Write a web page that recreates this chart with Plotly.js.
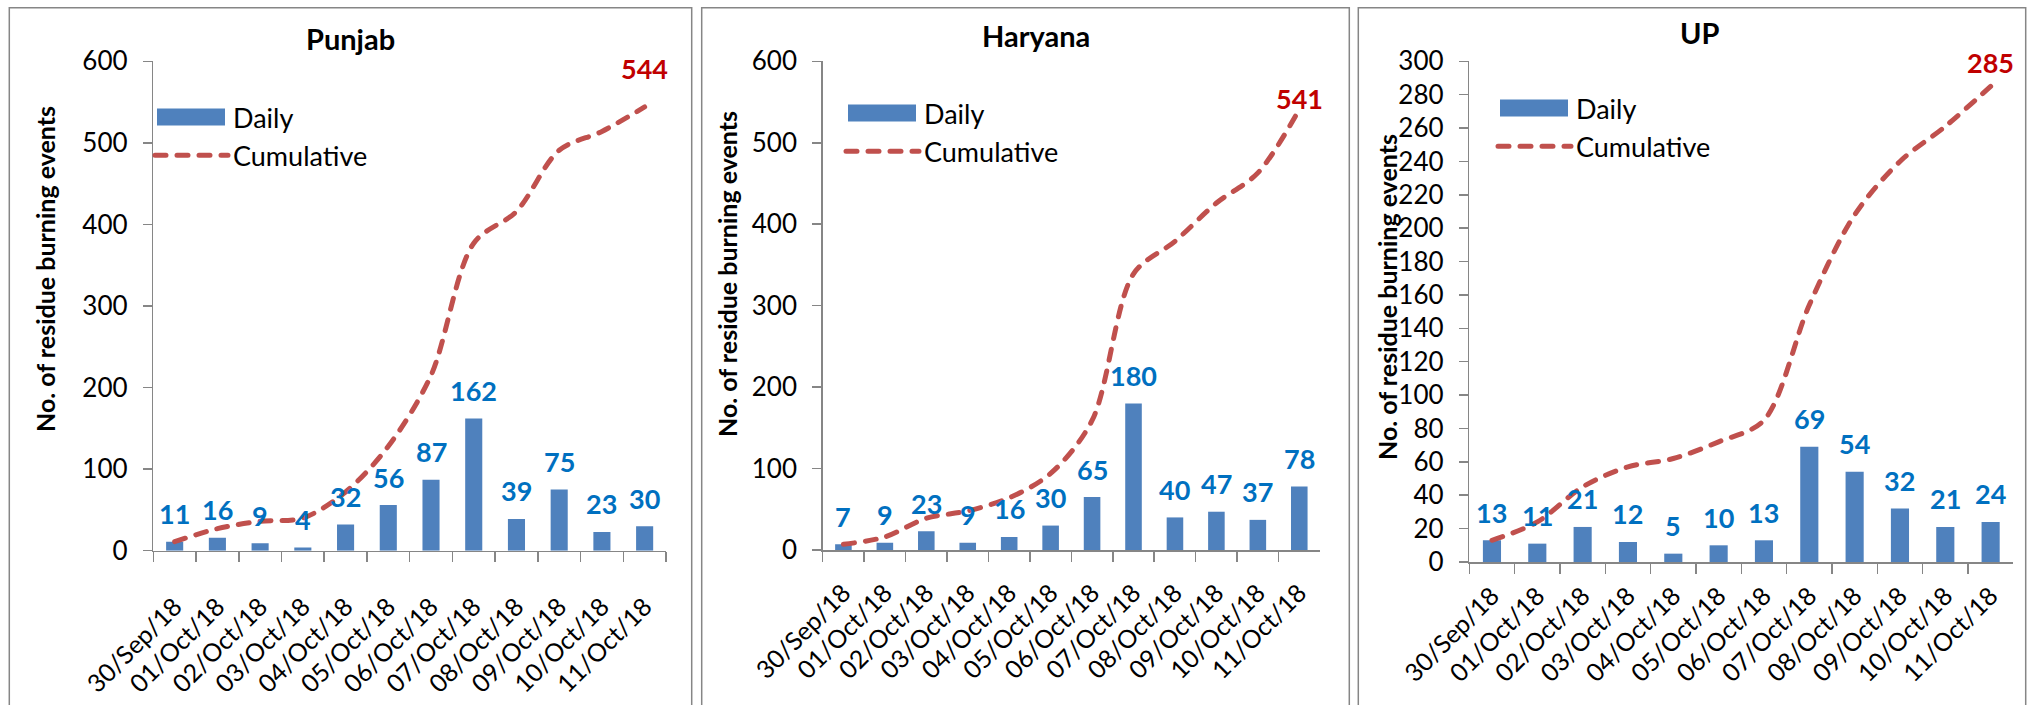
<!DOCTYPE html>
<html><head><meta charset="utf-8">
<script src="https://cdn.plot.ly/plotly-3.0.1.min.js"></script>
<style>
html,body{margin:0;padding:0;background:#fff;}
#chart{width:2028px;height:705px;}
.scatterlayer .js-line{stroke-linecap:round;}
.infolayer .js-line{stroke-linecap:round;}
.infolayer .legendpoints path{d:path("M7,-8.5H75V8.5H7Z") !important;transform:none !important;}
</style></head><body><div id="chart"></div>
<script>
// ---------- data ----------
const dates = ['30/Sep/18','01/Oct/18','02/Oct/18','03/Oct/18','04/Oct/18','05/Oct/18',
               '06/Oct/18','07/Oct/18','08/Oct/18','09/Oct/18','10/Oct/18','11/Oct/18'];
const punjabDaily = [11,16,9,4,32,56,87,162,39,75,23,30];
const punjabCumulative = [11,27,36,40,72,128,215,377,416,491,514,544];
const haryanaDaily = [7,9,23,9,16,30,65,180,40,47,37,78];
const haryanaCumulative = [7,16,39,48,64,94,159,339,379,426,463,541];
const upDaily = [13,11,21,12,5,10,13,69,54,32,21,24];
const upCumulative = [13,24,45,57,62,72,85,154,208,240,261,285];
const stateNames = ['Punjab','Haryana','UP'];
const yAxisTitle = 'No. of residue burning events';
const seriesNames = ['Daily','Cumulative'];

// ---------- layout geometry (pixels of the 2028x705 page) ----------
const W = 2028, H = 705;
const px = v => v / W, py = v => 1 - v / H;
const FONT = 'Lato, "Open Sans", sans-serif';
const BAR = '#4F81BD', LINE = '#C0504D', LABEL = '#0070C0', TOTAL = '#C00000', AXIS = '#868686';

const panels = [
  {daily: punjabDaily, cum: punjabCumulative, yMax: 600, dtick: 100,
   box: [9.3, 691.7], plot: [153.3, 666, 550.7, 61.3], tickGap: 30,
   title: [350, 39], yTitle: [45, 269], legendPos: [150, 93], totalShift: 38},
  {daily: haryanaDaily, cum: haryanaCumulative, yMax: 600, dtick: 100,
   box: [701.7, 1349.3], plot: [822.7, 1320, 550, 61.3], tickGap: 17,
   title: [1036, 36], yTitle: [727, 274], legendPos: [841, 89], totalShift: 11},
  {daily: upDaily, cum: upCumulative, yMax: 300, dtick: 20,
   box: [1358.3, 2025.7], plot: [1469.3, 2013.3, 562, 61.3], tickGap: 8,
   title: [1700, 33], yTitle: [1387, 297], legendPos: [1493, 84], totalShift: 24}
];

const traces = [], annotations = [], shapes = [];
const layout = {
  width: W, height: H, margin: {l: 0, r: 0, t: 0, b: 0},
  paper_bgcolor: '#fff', plot_bgcolor: 'rgba(0,0,0,0)',
  font: {family: FONT, color: '#000', size: 24},
  bargap: 0.6, showlegend: true
};

panels.forEach((p, i) => {
  const n = i === 0 ? '' : String(i + 1);
  const xa = 'x' + n, ya = 'y' + n, lg = 'legend' + n;
  traces.push({
    type: 'bar', x: dates, y: p.daily, name: seriesNames[0],
    xaxis: xa, yaxis: ya, legend: lg, legendgroup: 'd' + i,
    marker: {color: BAR, line: {width: 0}}, hoverinfo: 'x+y'
  });
  traces.push({
    type: 'scatter', mode: 'lines', x: dates, y: p.cum, name: seriesNames[1],
    xaxis: xa, yaxis: ya, legend: lg, legendgroup: 'c' + i,
    line: {color: LINE, width: 5, dash: '11px,11px', shape: 'spline', smoothing: 0.9}
  });
  layout['xaxis' + n] = {
    type: 'category', domain: [px(p.plot[0]), px(p.plot[1])], anchor: ya,
    range: [-0.5, dates.length - 0.5], showline: true, linecolor: AXIS, linewidth: 1.5,
    ticks: 'outside', tickson: 'boundaries', ticklen: 10, tickwidth: 1.5, tickcolor: AXIS,
    tickangle: -45, tickfont: {size: 25, color: '#000'}, showgrid: false, zeroline: false,
    fixedrange: true, ticklabelstandoff: p.tickGap
  };
  layout['yaxis' + n] = {
    domain: [py(p.plot[2]), py(p.plot[3])], anchor: xa,
    range: [0, p.yMax], dtick: p.dtick, showline: true, linecolor: AXIS, linewidth: 1.5,
    ticks: 'outside', ticklen: 9, tickwidth: 1.5, tickcolor: AXIS,
    tickfont: {size: 26, color: '#000'}, showgrid: false, zeroline: false, fixedrange: true,
    ticklabelstandoff: 10
  };
  layout[lg] = {
    x: px(p.legendPos[0]), y: py(p.legendPos[1]), xanchor: 'left', yanchor: 'top',
    bgcolor: 'rgba(0,0,0,0)', borderwidth: 0, font: {size: 27, color: '#000'},
    itemwidth: 73, tracegroupgap: 0, traceorder: 'normal'
  };
  // chart box
  shapes.push({type: 'rect', xref: 'paper', yref: 'paper',
    x0: px(p.box[0]), x1: px(p.box[1]), y0: -0.05, y1: py(7.8),
    line: {color: AXIS, width: 1.5}, fillcolor: 'rgba(0,0,0,0)', layer: 'below'});
  // chart title
  annotations.push({xref: 'paper', yref: 'paper', x: px(p.title[0]), y: py(p.title[1]),
    xanchor: 'center', yanchor: 'middle', showarrow: false,
    text: '<b>' + stateNames[i] + '</b>', font: {size: 29, color: '#000'}});
  // y-axis title
  annotations.push({xref: 'paper', yref: 'paper', x: px(p.yTitle[0]), y: py(p.yTitle[1]),
    xanchor: 'center', yanchor: 'middle', showarrow: false, textangle: -90,
    text: '<b>' + yAxisTitle + '</b>', font: {size: 25, color: '#000'}});
  // daily data labels
  p.daily.forEach((v, k) => annotations.push({xref: xa, yref: ya, x: dates[k], y: v,
    yshift: 28, xanchor: 'center', yanchor: 'middle', showarrow: false,
    text: '<b>' + v + '</b>', font: {size: 27, color: LABEL}}));
  // cumulative total label
  const last = p.cum.length - 1;
  annotations.push({xref: xa, yref: ya, x: dates[last], y: p.cum[last],
    yshift: p.totalShift, xanchor: 'center', yanchor: 'middle', showarrow: false,
    text: '<b>' + p.cum[last] + '</b>', font: {size: 27, color: TOTAL}});
});
layout.annotations = annotations;
layout.shapes = shapes;

function wideBarKeys(gd) {
  gd.querySelectorAll('.infolayer .legendpoints path').forEach(el => {
    el.setAttribute('transform', '');
    el.setAttribute('d', 'M7,-8.5H75V8.5H7Z');
  });
}
Plotly.newPlot('chart', traces, layout, {staticPlot: true, displayModeBar: false}).then(gd => {
  wideBarKeys(gd);
  setTimeout(() => wideBarKeys(gd), 50);
});
</script></body></html>
